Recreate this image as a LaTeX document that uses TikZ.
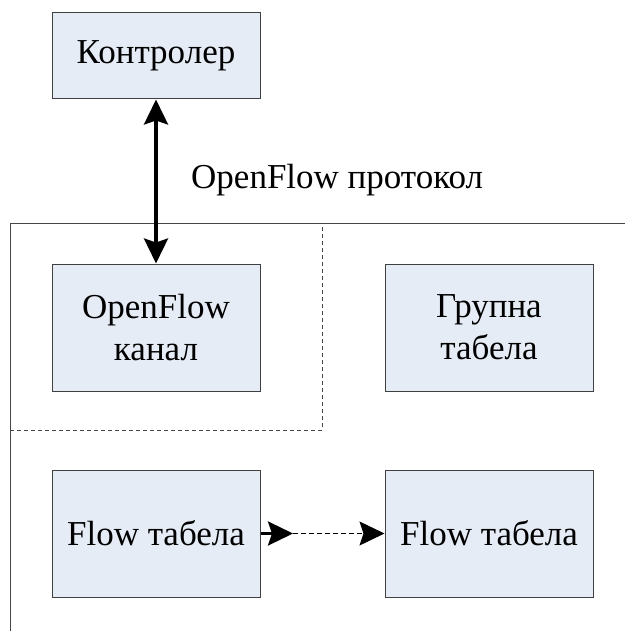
\documentclass[tikz,border=0pt]{standalone}
\usepackage{fontspec}
\setmainfont{Liberation Serif}
\usetikzlibrary{arrows.meta}
\definecolor{boxfill}{RGB}{230,236,246}
\definecolor{boxline}{RGB}{64,64,64}
\definecolor{frameline}{RGB}{70,70,70}
\tikzset{
  blk/.style={draw=boxline, fill=boxfill, line width=1pt, minimum width=208pt, align=center,
    font=\fontsize{35}{42}\selectfont, inner sep=0pt},
  tall/.style={minimum height=127pt},
  bigtip/.style={-{Stealth[length=25pt,width=24pt,inset=4pt]}},
  bothtip/.style={{Stealth[length=25pt,width=24pt,inset=4pt]}-{Stealth[length=25pt,width=24pt,inset=4pt]}},
  frame/.style={draw=frameline, line width=1pt},
  dframe/.style={draw=frameline, line width=1pt, dash pattern=on 4pt off 3pt}
}
\begin{document}
\begin{tikzpicture}[x=1pt,y=-1pt]
\useasboundingbox (0,0) rectangle (625,631);
% frame
\coordinate (fa) at (10,631);
\coordinate (fb) at (10,223);
\coordinate (fc) at (625,223);
\draw[frame] (fa) -- (fb) -- (fc);
\coordinate (da) at (10,430);
\coordinate (db) at (322,430);
\coordinate (dc) at (322,223);
\draw[dframe] (da) -- (db) -- (dc);
% boxes
\node[blk, minimum height=86pt] (ctrl) at (156,56) {Контролер};
\node[blk, tall] (ofc) at (156,327.5) {OpenFlow\\канал};
\node[blk, tall] (grp) at (489,327.5) {Групна\\табела};
\node[blk, tall] (fl1) at (156,533.5) {Flow табела};
\node[blk, tall] (fl2) at (489,533.5) {Flow табела};
% arrows
\draw[line width=3.5pt, bothtip] (ctrl.south) -- (ofc.north);
\node[anchor=base west, inner sep=0pt, font=\fontsize{35}{42}\selectfont] (lbl) at (191,189) {OpenFlow протокол};
\coordinate (m1) at (293,533.5);
\draw[line width=3pt, bigtip] (fl1.east) -- (m1);
\draw[line width=1pt, dash pattern=on 5pt off 3pt, bigtip] (m1) -- (fl2.west);
\end{tikzpicture}
\end{document}
